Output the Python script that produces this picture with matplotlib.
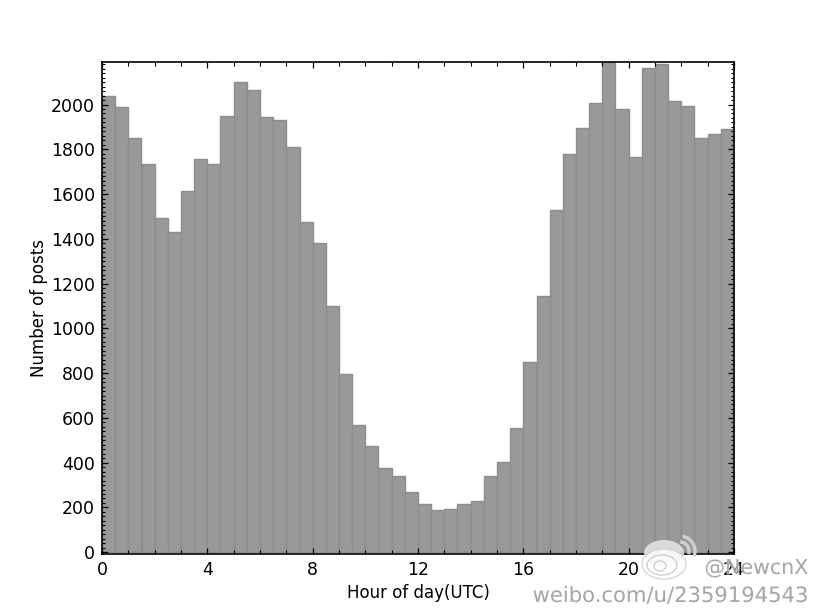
import matplotlib
matplotlib.use("Agg")
import matplotlib.pyplot as plt
import matplotlib.patheffects as pe
import numpy as np
from matplotlib.ticker import MultipleLocator
from matplotlib.patches import Arc, Ellipse

hours = np.arange(0, 24, 0.5)
posts = [2040, 1990, 1850, 1735, 1495, 1430, 1615, 1755, 1735, 1950, 2100, 2065,
         1945, 1930, 1810, 1475, 1380, 1100, 795, 570, 475, 375, 340, 270,
         215, 190, 195, 215, 230, 340, 405, 555, 850, 1145, 1530, 1780, 1895, 2005,
         2200, 1980, 1765, 2165, 2180, 2015, 1995, 1850, 1870, 1890]
xticks = [0, 4, 8, 12, 16, 20, 24]
yticks = list(range(0, 2200, 200))

W, H = 815, 615
fig = plt.figure(figsize=(W / 100, H / 100), dpi=100)
ax = fig.add_axes([102 / W, 1 - 554 / H, 632 / W, 492 / H])

ax.bar(hours, posts, width=0.5, align='edge', color='#999999', edgecolor='#8d8d8d', linewidth=1)

ax.set_xlim(0, 24)
ax.set_ylim(-8, 2190)
ax.set_xticks(xticks)
ax.set_yticks(yticks)
ax.xaxis.set_minor_locator(MultipleLocator(1))
ax.yaxis.set_minor_locator(MultipleLocator(20))
ax.tick_params(axis='both', which='major', direction='in', length=4.5, width=0.9,
               top=True, right=True, labelsize=12.5, pad=5)
ax.tick_params(axis='x', which='minor', direction='in', length=3, width=0.8, top=True)
ax.tick_params(axis='y', which='minor', direction='in', length=2.2, width=0.8, left=True, right=True)
ax.set_xlabel("Hour of day(UTC)", fontsize=12, labelpad=4)
ax.set_ylabel("Number of posts", fontsize=12, labelpad=2)
for s in ax.spines.values():
    s.set_linewidth(1.2)

# weibo watermark
grey = '#cfcfcf'
ov = fig.add_axes([0, 0, 1, 1], facecolor='none')
ov.set_xlim(0, W)
ov.set_ylim(H, 0)
ov.axis('off')
ov.add_patch(Ellipse((664, 553), 40, 26, fc='#e2e2e2', ec='none', alpha=0.9))
ov.add_patch(Ellipse((664, 564), 44, 30, fc='#ffffff', ec=grey, alpha=0.8, lw=1))
ov.add_patch(Ellipse((662, 565), 30, 20, fc='none', ec=grey, lw=1))
ov.add_patch(Ellipse((660, 566), 12, 10, fc='none', ec=grey, lw=1))
ov.add_patch(Arc((680, 551), 18, 18, theta1=270, theta2=20, ec=grey, lw=2.5))
ov.add_patch(Arc((680, 551), 30, 30, theta1=280, theta2=20, ec=grey, lw=2.5))

halo = [pe.withStroke(linewidth=1.2, foreground='white', alpha=0.4)]
ov.text(808, 568, "@NewcnX", fontsize=14.8, color='#a8a8a8', ha='right', va='center', path_effects=halo)
ov.text(808, 596, "weibo.com/u/2359194543", fontsize=15.2, color='#a8a8a8', ha='right', va='center', path_effects=halo)

fig.savefig("out.png", dpi=100)
